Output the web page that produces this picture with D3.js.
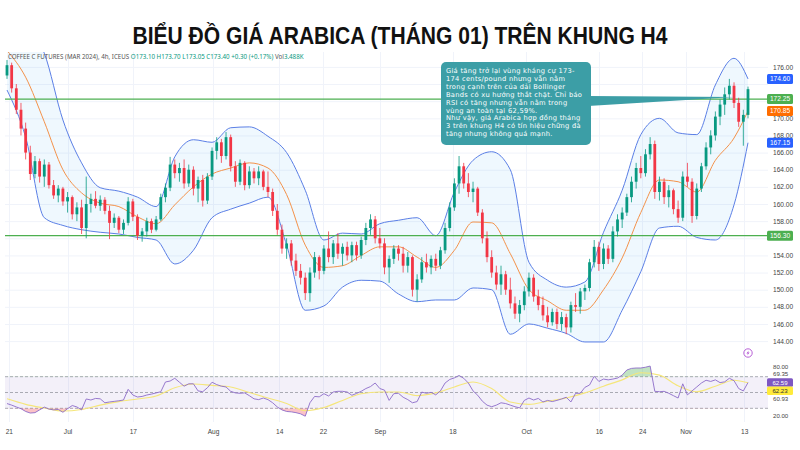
<!DOCTYPE html>
<html>
<head>
<meta charset="utf-8">
<script src="https://cdn.jsdelivr.net/npm/d3@7"></script>
<style>
  body { margin: 0; background: #fff; }
  svg { display: block; font-family: "Noto Sans", "DejaVu Sans", sans-serif; }
</style>
</head>
<body>
<script>
var width = 800,
  height = 450;

// 4h candles [open, high, low, close]
var opens = [175.0,176.2,173.5,171.0,168.8,166.0,163.5,165.0,163.2,164.6,162.2,161.0,161.8,160.3,160.8,158.8,159.6,157.2,160.0,160.6,
  159.8,160.5,159.2,157.8,158.4,157.0,157.8,160.3,158.5,156.3,156.8,158.0,157.0,158.2,160.8,161.9,164.6,163.6,164.2,162.4,
  164.0,161.8,162.8,160.4,163.2,166.2,167.2,165.6,167.8,164.4,162.6,164.8,162.2,163.8,163.0,163.8,162.0,161.4,159.2,157.0,
  154.8,155.4,153.4,152.2,151.4,149.6,152.0,153.8,152.2,154.8,153.8,155.4,154.2,155.0,154.0,155.2,154.0,155.8,157.2,158.2,
  156.0,155.4,152.6,153.6,154.8,154.2,152.8,153.8,150.0,151.2,153.2,152.6,153.6,152.8,154.6,157.2,159.6,162.4,164.4,162.4,
  161.4,161.8,159.0,156.0,153.8,152.0,150.6,151.8,150.0,148.4,147.2,148.2,149.8,151.4,149.2,148.2,147.0,146.2,147.4,146.0,
  146.8,145.6,148.2,148.0,149.8,150.2,153.2,155.0,153.0,154.8,153.6,156.8,158.2,159.0,160.8,162.6,164.2,163.6,165.8,167.0,
  161.4,162.6,160.8,161.6,159.4,158.4,163.2,162.6,158.6,161.8,164.4,166.6,168.0,170.2,171.6,172.8,173.8,171.8,169.6,170.4];
var highs = [176.8,176.5,174.0,171.8,169.5,166.8,165.6,165.3,165.2,164.9,162.8,162.2,162.0,161.4,161.0,160.2,160.5,163.2,161.2,161.5,
  161.0,160.8,159.8,158.9,158.6,158.2,160.8,160.6,158.8,157.2,158.4,158.3,158.6,161.2,162.4,165.5,165.2,164.8,165.2,164.6,
  164.4,163.2,163.4,163.6,166.6,167.8,167.6,168.4,168.1,165.0,165.2,165.0,164.4,164.2,164.4,164.0,163.8,161.8,160.0,157.6,
  156.0,155.8,154.2,153.0,152.0,152.6,154.4,154.0,155.2,156.8,155.8,156.6,155.4,155.6,155.6,155.6,156.2,157.8,158.8,158.6,
  157.2,156.0,154.0,155.2,155.2,155.0,154.4,154.0,151.8,153.8,154.2,154.0,154.2,155.0,157.8,160.2,163.0,165.6,164.8,163.6,
  162.6,162.0,159.4,156.8,154.6,152.8,152.8,152.2,151.4,149.2,148.8,150.4,152.0,151.8,150.0,149.2,148.0,147.8,147.8,147.4,
  147.2,148.6,149.6,150.2,150.6,153.6,155.8,155.6,155.4,155.2,157.4,158.8,159.6,161.2,163.2,164.8,165.6,166.4,167.8,167.4,
  163.2,163.0,162.2,161.8,160.4,163.8,164.8,163.0,162.4,164.8,167.2,168.6,170.8,172.2,173.6,174.6,174.2,172.4,171.0,173.7];
var lows = [174.6,173.0,170.5,168.0,165.2,162.8,163.0,162.5,162.0,161.8,160.6,160.2,159.8,159.0,158.2,158.0,156.5,156.0,159.0,159.5,
  159.2,158.8,155.9,157.2,156.6,156.5,157.5,158.0,155.8,155.6,156.2,156.6,156.8,158.0,160.2,161.5,163.0,162.6,161.8,162.0,
  161.0,160.2,159.7,160.0,162.8,165.2,164.8,165.2,163.8,162.0,162.2,161.6,161.8,162.4,162.2,161.6,160.8,158.6,156.4,154.2,
  153.6,152.8,151.6,150.6,148.8,148.6,151.4,151.2,151.8,153.2,153.0,153.6,152.8,153.4,153.2,153.4,153.6,155.2,156.4,155.4,
  154.8,151.8,150.8,153.0,153.4,152.0,152.0,149.2,148.6,150.8,152.0,151.8,152.2,152.4,154.2,156.8,159.2,161.2,161.8,160.8,
  160.2,158.6,155.4,153.2,151.4,150.0,149.4,149.4,147.8,146.6,146.2,147.6,149.2,148.6,147.6,146.4,145.6,145.8,145.4,145.2,
  144.8,145.0,147.4,147.2,148.8,149.8,152.6,152.2,152.4,153.0,153.2,156.2,157.2,158.6,160.2,161.8,163.0,163.2,165.2,160.6,
  160.4,160.0,159.6,158.8,157.8,158.0,162.0,157.8,158.2,161.4,164.0,165.8,167.4,169.2,170.4,172.2,171.2,169.0,166.8,170.0];
var closes = [176.2,173.5,171.0,168.8,166.0,163.5,165.0,163.2,164.6,162.2,161.0,161.8,160.3,160.8,158.8,159.6,157.2,160.0,160.6,159.8,
  160.5,159.2,157.8,158.4,157.0,157.8,160.3,158.5,156.3,156.8,158.0,157.0,158.2,160.8,161.9,164.6,163.6,164.2,162.4,164.0,
  161.8,162.8,160.4,163.2,166.2,167.2,165.6,167.8,164.4,162.6,164.8,162.2,163.8,163.0,163.8,162.0,161.4,159.2,157.0,154.8,
  155.4,153.4,152.2,151.4,149.6,152.0,153.8,152.2,154.8,153.8,155.4,154.2,155.0,154.0,155.2,154.0,155.8,157.2,158.2,156.0,
  155.4,152.6,153.6,154.8,154.2,152.8,153.8,150.0,151.2,153.2,152.6,153.6,152.8,154.6,157.2,159.6,162.4,164.4,162.4,161.4,
  161.8,159.0,156.0,153.8,152.0,150.6,151.8,150.0,148.4,147.2,148.2,149.8,151.4,149.2,148.2,147.0,146.2,147.4,146.0,146.8,
  145.6,148.2,148.0,149.8,150.2,153.2,155.0,153.0,154.8,153.6,156.8,158.2,159.0,160.8,162.6,164.2,163.6,165.8,167.0,161.4,
  162.6,160.8,161.6,159.4,158.4,163.2,162.6,158.6,161.8,164.4,166.6,168.0,170.2,171.6,172.8,173.8,171.8,169.6,170.4,173.4];

// Bollinger Bands, one reading every 4 candles (last one = last candle)
var bbUpper = [184.0,181.0,177.6,169.8,164.8,161.9,161.5,160.8,159.7,165.5,167.5,167.2,168.9,169.0,167.9,166.0,161.6,155.8,156.6,156.5,
  157.7,158.1,158.4,156.3,161.4,165.1,166.1,164.0,153.2,151.1,150.3,150.9,156.7,161.6,168.1,170.0,168.3,168.1,173.9,177.0,174.6];
var bbBasis = [177.9,174.8,169.6,164.0,161.3,160.1,159.7,158.5,157.7,159.9,162.0,163.5,164.2,164.8,164.2,161.1,155.2,152.6,152.8,154.0,
  155.0,155.0,153.8,152.6,154.6,157.9,157.8,154.2,150.0,148.7,147.6,147.6,150.0,153.7,159.0,162.8,162.6,161.4,165.1,167.7,170.85];
var bbLower = [173.3,167.8,158.4,157.5,157.0,156.7,156.5,156.1,155.8,153.0,154.6,158.4,159.4,160.1,160.8,155.2,147.6,148.1,150.3,151.1,
  151.0,149.5,148.6,148.8,148.8,150.2,150.0,144.8,146.0,145.5,144.9,143.9,143.9,147.6,152.1,157.2,157.4,156.1,155.8,159.9,167.15];

// RSI (one per candle) and its moving average (every 4 candles)
var rsi = [36,34,31.7,29.5,26,24,24.5,28,31.5,29,28,28.5,25,29.5,33.5,31.7,28,41.8,40.5,42.5,
  42,37,38,38.8,39.5,40.5,54,46.8,44.3,45,46.8,48,49.5,51,63.3,64.5,68,63,58,61,
  61,52,51,56,63,60,58,57,51.5,49.5,49,49.5,46,42,41,43,41,37,31.7,28,
  26,25.5,24.5,23,20,37,45,44.5,48.5,45.6,50.6,51.5,51.5,50.6,46.5,48.8,51.5,55,57.5,62,
  55,53,40,48.5,49,44,41,37,38.5,50.5,49,50.2,47,52,62,66.5,68.5,71.5,68,62,
  52,46.5,39,34,32,34,37,36,34,32,30.5,40,43,40.5,42.5,38,40,38.5,40,41.8,
  44,38,49,49,56.5,59.5,70.5,64,67,66,67,68.3,72,78.5,80.5,81,81,82,83.5,51.5,
  51,51.5,49,46,43,61,47,52,57,62,65.5,64,66,62.5,63.5,68,65,55,52,62.59];
var rsiMA = [42,35,30.4,26.5,28.5,34,38.5,41.8,45.5,56,60.8,59,57,50,43,36,27,31,40,48.5,
  50.6,50.6,46,49.5,57,63.3,55,38,35,39,43,49.5,58,66,75,72,58.5,51,58,65.5,62.23];

// time axis
var timeLabels = ["21", "Jul", "17", "Aug", "14", "22", "Sep", "18", "Oct", "16", "24", "Nov", "13"];
var timeIdx = [0.4, 13, 27, 44.2, 58.4, 67.8, 80, 95.6, 111.4, 127, 136.3, 145.6, 158.2];

// price axis
var priceTicks = [144, 146, 148, 150, 152, 154, 156, 158, 160, 162, 164, 166, 168, 170, 172, 174, 176];
var levels = [172.25, 156.30];
var rsiLevels = [70, 50, 30];

var priceLabels = [
  { v: 174.60, bg: "#2962ff", fg: "#fff" },
  { v: 172.25, bg: "#4caf50", fg: "#fff" },
  { v: 170.85, bg: "#ff6d00", fg: "#fff" },
  { v: 167.15, bg: "#2962ff", fg: "#fff" },
  { v: 156.30, bg: "#4caf50", fg: "#fff" }
];
var rsiLabels = [
  { v: 80, t: "80.00", bg: null },
  { v: 69.35, t: "69.35", bg: null },
  { v: 62.59, t: "62.59", bg: "#7e57c2", fg: "#fff" },
  { v: 62.23, t: "62.23", bg: "#ffeb3b", fg: "#333" },
  { v: 60.93, t: "60.93", bg: null },
  { v: 20, t: "20.00", bg: null }
];

var note = [
  "Giá tăng trở lại vùng kháng cự 173-",
  "174 cents/pound nhưng vẫn nằm",
  "trong cạnh trên của dải Bollinger",
  "Bands có xu hướng thắt chặt. Chỉ báo",
  "RSI có tăng nhưng vẫn nằm trong",
  "vùng an toàn tại 62,59%.",
  "Như vậy, giá Arabica hợp đồng tháng",
  "3 trên khung H4 có tín hiệu chững đà",
  "tăng nhưng không quá mạnh."
];

var N = closes.length;
var plotL = 5, plotR = 768, mainT = 52, mainB = 358, rsiT = 360, rsiB = 422;
var axisFont = "'Liberation Sans', Arial, sans-serif";

var svg = d3.select("body").append("svg")
  .attr("width", width)
  .attr("height", height);

var x = d3.scaleLinear().domain([0, N - 1]).range([7, 748]);
var y = d3.scaleLinear().domain([144, 176]).range([341.1, 66.9]);
var yr = d3.scaleLinear().domain([20, 80]).range([416.2, 368.8]);
var bx = function (k) { return x(Math.min(k * 4, N - 1)); };

// Title
svg.append("text")
  .attr("x", 400).attr("y", 44)
  .attr("text-anchor", "middle")
  .attr("font-family", "'Liberation Sans', Arial, sans-serif")
  .attr("font-weight", "bold")
  .attr("font-size", 24)
  .attr("textLength", 535)
  .attr("lengthAdjust", "spacingAndGlyphs")
  .attr("fill", "#111")
  .text("BIỂU ĐỒ GIÁ ARABICA (THÁNG 01) TRÊN KHUNG H4");

var defs = svg.append("defs");
defs.append("clipPath").attr("id", "clipMain")
  .append("rect").attr("x", plotL).attr("y", mainT).attr("width", plotR - plotL).attr("height", mainB - mainT);

// Grid
var grid = svg.append("g").attr("stroke", "#f0f3fa").attr("stroke-width", 1);
grid.selectAll("line.h").data(priceTicks).enter().append("line")
  .attr("x1", plotL).attr("x2", plotR)
  .attr("y1", function (d) { return y(d) + 0.5; }).attr("y2", function (d) { return y(d) + 0.5; });
grid.selectAll("line.v").data(timeIdx).enter().append("line")
  .attr("x1", function (d) { return Math.round(x(d)) + 0.5; }).attr("x2", function (d) { return Math.round(x(d)) + 0.5; })
  .attr("y1", mainT).attr("y2", rsiB);

var main = svg.append("g").attr("clip-path", "url(#clipMain)");

// Bollinger fill + lines
main.append("path")
  .datum(bbUpper)
  .attr("fill", "rgba(33,150,243,0.07)")
  .attr("d", d3.area()
    .x(function (d, k) { return bx(k); })
    .y0(function (d, k) { return y(bbLower[k]); })
    .y1(function (d) { return y(d); })
    .curve(d3.curveMonotoneX));

[bbUpper, bbLower].forEach(function (s) {
  main.append("path").datum(s)
    .attr("fill", "none").attr("stroke", "#5b7fe6").attr("stroke-width", 1)
    .attr("d", d3.line().x(function (d, k) { return bx(k); }).y(function (d) { return y(d); }).curve(d3.curveMonotoneX));
});
main.append("path").datum(bbBasis)
  .attr("fill", "none").attr("stroke", "#f4924a").attr("stroke-width", 1)
  .attr("d", d3.line().x(function (d, k) { return bx(k); }).y(function (d) { return y(d); }).curve(d3.curveMonotoneX));

// Horizontal levels
main.selectAll("line.lvl").data(levels).enter().append("line")
  .attr("x1", plotL).attr("x2", plotR)
  .attr("y1", function (d) { return y(d); }).attr("y2", function (d) { return y(d); })
  .attr("stroke", "#4caf50").attr("stroke-width", 1.3);

// Candles
var up = "#089981", dn = "#f23645";
var candles = main.selectAll("g.c").data(closes).enter().append("g");
candles.append("line")
  .attr("x1", function (d, i) { return x(i); }).attr("x2", function (d, i) { return x(i); })
  .attr("y1", function (d, i) { return y(highs[i]); }).attr("y2", function (d, i) { return y(lows[i]); })
  .attr("stroke", function (d, i) { return d >= opens[i] ? up : dn; })
  .attr("stroke-width", 0.8);
candles.append("rect")
  .attr("x", function (d, i) { return x(i) - 1.4; })
  .attr("width", 2.8)
  .attr("y", function (d, i) { return y(Math.max(d, opens[i])); })
  .attr("height", function (d, i) { return Math.max(0.8, Math.abs(y(d) - y(opens[i]))); })
  .attr("fill", function (d, i) { return d >= opens[i] ? up : dn; });

// Callout
var box = svg.append("g");
box.append("path")
  .attr("d", "M588,96 L735,97 L588,106 Z")
  .attr("fill", "#3c9ea6");
box.append("rect")
  .attr("x", 441).attr("y", 62).attr("width", 150).attr("height", 83).attr("rx", 5)
  .attr("fill", "#3c9ea6");
box.selectAll("text").data(note).enter().append("text")
  .attr("x", 446)
  .attr("y", function (d, i) { return 73.3 + i * 7.85; })
  .attr("font-family", "'DejaVu Sans', sans-serif")
  .attr("font-size", 6.7)
  .attr("letter-spacing", 0.28)
  .attr("fill", "#fff")
  .text(function (d) { return d; });

// Header
var hdr = svg.append("text").attr("x", 8).attr("y", 59).attr("font-size", 6.2).attr("fill", "#555");
hdr.append("tspan").text("COFFEE C FUTURES (MAR 2024), 4h, ICEUS  ");
hdr.append("tspan").attr("fill", "#089981").text("O173.10  H173.70  L173.05  C173.40  +0.30 (+0.17%)  ");
hdr.append("tspan").text("Vol");
hdr.append("tspan").attr("fill", "#089981").text("3.488K");

// Price axis (tick labels hidden where a value tag sits on them)
var shownTicks = priceTicks.filter(function (t) {
  return priceLabels.every(function (p) { return Math.abs(y(t) - y(p.v)) > 6.5; });
});
var pAxis = svg.append("g")
  .attr("transform", "translate(770,0)")
  .call(d3.axisRight(y).tickValues(shownTicks).tickSize(0).tickPadding(3).tickFormat(d3.format(".2f")));
pAxis.select(".domain").remove();
pAxis.selectAll("text").attr("font-size", 6.6).attr("fill", "#444").attr("font-family", axisFont);

var pl = svg.selectAll("g.pl").data(priceLabels).enter().append("g")
  .attr("transform", function (d) { return "translate(767," + y(d.v) + ")"; });
pl.append("rect").attr("x", 0).attr("y", -5).attr("width", 26).attr("height", 10).attr("rx", 1.5)
  .attr("fill", function (d) { return d.bg; });
pl.append("text").attr("x", 13).attr("y", 2.4).attr("text-anchor", "middle")
  .attr("font-size", 6.6).attr("font-family", axisFont).attr("fill", function (d) { return d.fg; })
  .text(function (d) { return d3.format(".2f")(d.v); });

// RSI panel
var rsiG = svg.append("g");
rsiG.append("rect")
  .attr("x", plotL).attr("width", plotR - plotL)
  .attr("y", yr(70)).attr("height", yr(30) - yr(70))
  .attr("fill", "rgba(126,87,194,0.09)");
rsiG.selectAll("line.rl").data(rsiLevels).enter().append("line")
  .attr("x1", plotL).attr("x2", plotR)
  .attr("y1", function (d) { return yr(d); }).attr("y2", function (d) { return yr(d); })
  .attr("stroke", "#9598a1").attr("stroke-width", 0.8).attr("stroke-dasharray", "3,2");

defs.append("clipPath").attr("id", "clipOB")
  .append("rect").attr("x", plotL).attr("y", rsiT - 10).attr("width", plotR - plotL).attr("height", yr(70) - rsiT + 10);
defs.append("clipPath").attr("id", "clipOS")
  .append("rect").attr("x", plotL).attr("y", yr(30)).attr("width", plotR - plotL).attr("height", 30);

var rsiArea = d3.area().x(function (d, i) { return x(i); }).y1(function (d) { return yr(d); });
rsiG.append("path").datum(rsi).attr("clip-path", "url(#clipOB)")
  .attr("fill", "rgba(76,175,80,0.35)")
  .attr("d", rsiArea.y0(yr(70)));
rsiG.append("path").datum(rsi).attr("clip-path", "url(#clipOS)")
  .attr("fill", "rgba(242,54,69,0.3)")
  .attr("d", rsiArea.y0(yr(30)));

rsiG.append("path").datum(rsiMA)
  .attr("fill", "none").attr("stroke", "#f5e67a").attr("stroke-width", 1.1)
  .attr("d", d3.line().x(function (d, k) { return bx(k); }).y(function (d) { return yr(d); }).curve(d3.curveMonotoneX));
rsiG.append("path").datum(rsi)
  .attr("fill", "none").attr("stroke", "#8c6bc8").attr("stroke-width", 0.9)
  .attr("d", d3.line().x(function (d, i) { return x(i); }).y(function (d) { return yr(d); }));

// RSI labels, stacked around the current RSI value
var anchor = rsiLabels.findIndex(function (d) { return d.v === rsi[N - 1]; });
rsiLabels.forEach(function (d, i) {
  var pos = yr(d.v);
  if (i !== 0 && i !== rsiLabels.length - 1) pos = yr(rsiLabels[anchor].v) + (i - anchor) * 8.2;
  if (i === 0) pos = yr(d.v) - 1.8;
  d.pos = pos;
});
var rl = svg.selectAll("g.rl").data(rsiLabels).enter().append("g")
  .attr("transform", function (d) { return "translate(767," + d.pos + ")"; });
rl.filter(function (d) { return d.bg; }).append("rect")
  .attr("x", 0).attr("y", -4.2).attr("width", 26).attr("height", 8.4).attr("rx", 1.5)
  .attr("fill", function (d) { return d.bg; });
rl.append("text").attr("x", function (d) { return d.bg ? 13 : 6; }).attr("y", 2.1)
  .attr("text-anchor", function (d) { return d.bg ? "middle" : "start"; })
  .attr("font-size", 6.1).attr("font-family", axisFont).attr("fill", function (d) { return d.fg || "#444"; })
  .text(function (d) { return d.t; });

// Lightning icon
var ic = svg.append("g").attr("transform", "translate(748,353)");
ic.append("circle").attr("r", 4.2).attr("fill", "none").attr("stroke", "#b04fd1").attr("stroke-width", 0.9);
ic.append("path").attr("d", "M0.8,-2.6 L-1.6,0.4 L0,0.4 L-0.8,2.6 L1.6,-0.4 L0,-0.4 Z").attr("fill", "#b04fd1");

// Time axis
var tAxis = svg.append("g")
  .attr("transform", "translate(0,425)")
  .call(d3.axisBottom(x).tickValues(timeIdx).tickSize(0).tickPadding(4)
    .tickFormat(function (d, i) { return timeLabels[i]; }));
tAxis.select(".domain").remove();
tAxis.selectAll("text").attr("font-size", 6.6).attr("fill", "#444").attr("font-family", axisFont);
</script>
</body>
</html>
